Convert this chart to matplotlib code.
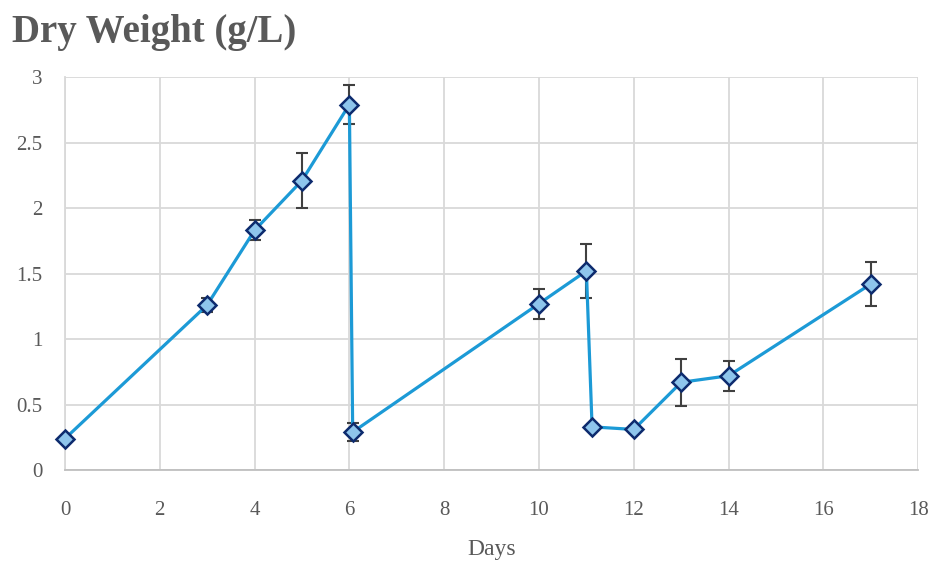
import matplotlib
matplotlib.use("Agg")
import matplotlib.pyplot as plt

days = [0, 3, 4, 5, 6, 6.07, 10, 11, 11.12, 12, 13, 14, 17]
dry_weight = [0.24, 1.26, 1.83, 2.21, 2.79, 0.29, 1.27, 1.52, 0.33, 0.31, 0.67, 0.72, 1.42]
errors = [0.0, 0.05, 0.075, 0.21, 0.15, 0.066, 0.115, 0.205, 0.02, 0.03, 0.18, 0.115, 0.17]
x_ticks = [0, 2, 4, 6, 8, 10, 12, 14, 16, 18]
y_ticks = [0, 0.5, 1, 1.5, 2, 2.5, 3]
y_tick_labels = ["0", "0.5", "1", "1.5", "2", "2.5", "3"]

serif = ["Liberation Serif", "DejaVu Serif"]
text_color = "#595959"

fig = plt.figure(figsize=(9.36, 5.65), dpi=100)
ax = fig.add_axes([0.0694, 0.168, 0.9116, 0.6957])

ax.errorbar(days, dry_weight, yerr=errors, fmt="none", ecolor="#404040",
            elinewidth=1.5, capsize=4.5, capthick=1.5, zorder=2)
ax.plot(days, dry_weight, color="#1c9ad6", linewidth=2.3, marker="D",
        markersize=9.5, markerfacecolor="#8ec5ec", markeredgecolor="#0d2b6e",
        markeredgewidth=1.8, zorder=3, clip_on=False)

ax.set_xlim(0, 18)
ax.set_ylim(0, 3)
ax.set_xticks(x_ticks)
ax.set_yticks(y_ticks)
ax.set_yticklabels(y_tick_labels)
ax.grid(True, color="#d9d9d9", linewidth=1.3)
ax.set_axisbelow(True)
for s in ["top", "right"]:
    ax.spines[s].set_visible(False)
ax.spines["left"].set_color("#d9d9d9")
ax.spines["left"].set_linewidth(1.3)
ax.spines["bottom"].set_color("#bfbfbf")
ax.spines["bottom"].set_linewidth(1.3)
ax.tick_params(length=0, labelsize=15, colors=text_color)
ax.tick_params(axis="x", pad=22)
ax.tick_params(axis="y", pad=16)
for lbl in ax.get_xticklabels() + ax.get_yticklabels():
    lbl.set_family(serif)
ax.set_xlabel("Days", fontsize=17, color=text_color, family=serif, labelpad=14)

fig.text(0.013, 0.926, "Dry Weight (g/L)", fontsize=28, fontweight="bold",
         color=text_color, family=serif, ha="left", va="baseline")

fig.savefig("out.png", dpi=100)
